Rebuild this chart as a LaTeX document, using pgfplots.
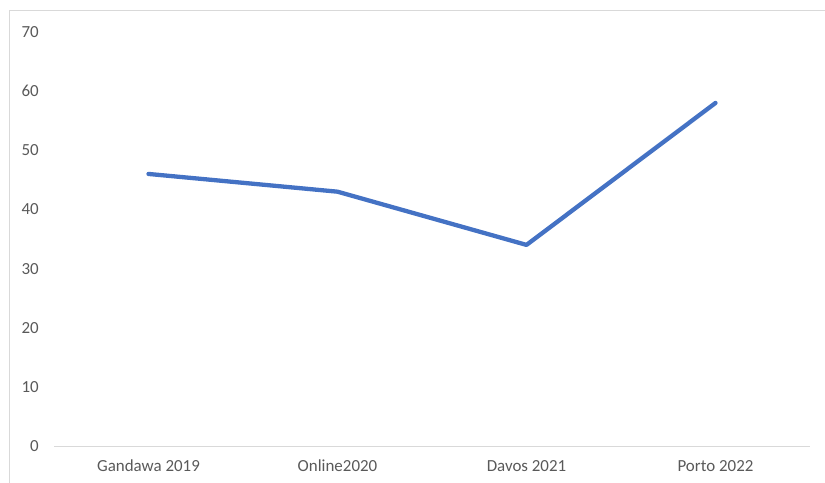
\documentclass[border=0pt]{standalone}
\usepackage{pgfplots}
\pgfplotsset{compat=1.18}
\usepackage{fontspec}
\setmainfont{Carlito}
\definecolor{linecol}{HTML}{4472C4}
\definecolor{txt}{HTML}{595959}
\definecolor{axcol}{HTML}{D9D9D9}
\begin{document}
\begin{tikzpicture}
\draw[axcol, line width=1bp] (9bp,-20bp) rectangle (845bp,472bp);
\begin{axis}[
  at={(54bp,37bp)}, anchor=south west,
  scale only axis, width=756bp, height=414bp,
  xmin=-0.5, xmax=3.5, ymin=0, ymax=70,
  xtick={0,1,2,3},
  xticklabels={Gandawa 2019, Online2020, Davos 2021, Porto 2022},
  ytick={0,10,...,70},
  axis lines=left,
  x axis line style={draw=axcol, line width=1bp, -},
  y axis line style={draw=none, -},
  major tick length=0pt,
  tick style={draw=none},
  /pgf/number format/assume math mode=true,
  ticklabel style={font=\fontsize{17}{20}\selectfont, text=txt, inner sep=0pt},
  yticklabel style={anchor=east, xshift=-15bp},
  xticklabel style={anchor=north, yshift=-14bp},
  clip=false,
]
\addplot[linecol, line width=4.3bp, line cap=round, line join=round] coordinates {
  (0,46) (1,43) (2,34) (3,58)
};
\end{axis}
\pgfresetboundingbox
\useasboundingbox (0,0) rectangle (825bp,483bp);
\end{tikzpicture}
\end{document}
